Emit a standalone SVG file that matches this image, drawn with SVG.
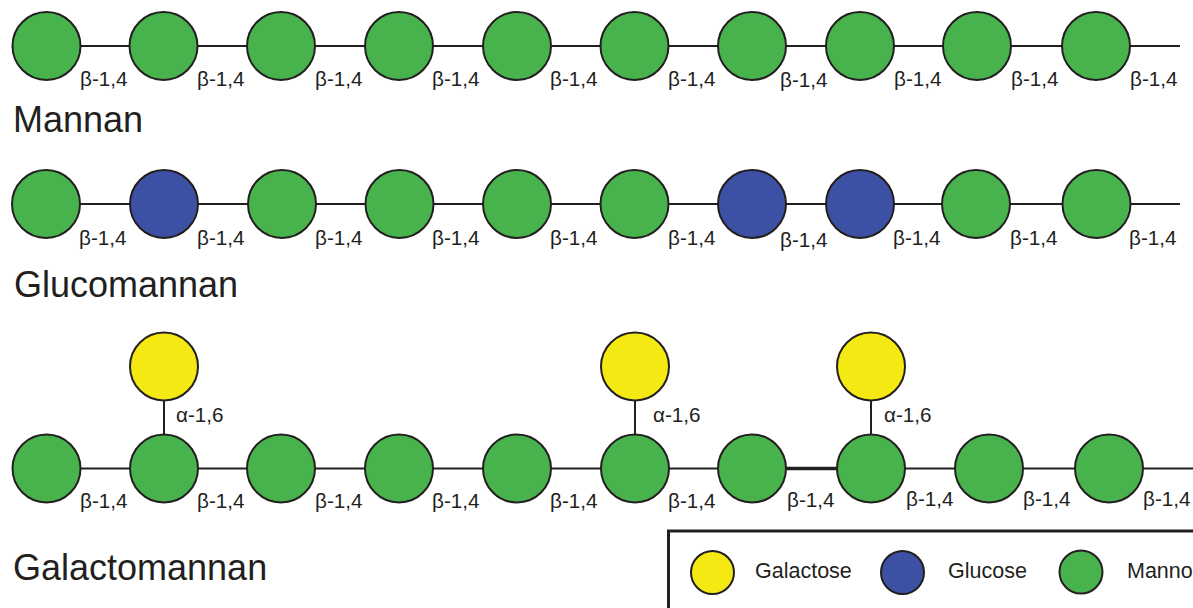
<svg xmlns="http://www.w3.org/2000/svg" width="1193" height="608" viewBox="0 0 1193 608">
<style>
.man{fill:#48b34c;stroke:#231f20;stroke-width:2}
.glc{fill:#3c51a3;stroke:#231f20;stroke-width:2}
.gal{fill:#f4e912;stroke:#231f20;stroke-width:2}
.ln{stroke:#231f20;stroke-width:2;fill:none}
.thick{stroke:#231f20;stroke-width:3.5;fill:none}
.lbl{font-family:"Liberation Sans",Arial,sans-serif;font-size:20.7px;fill:#231f20}
.ttl{font-family:"Liberation Sans",Arial,sans-serif;font-size:36px;fill:#231f20}
.leg{font-family:"Liberation Sans",Arial,sans-serif;font-size:21.5px;fill:#231f20}
</style>
<rect width="1193" height="608" fill="#ffffff"/>
<g id="connectors">
<path class="ln" d="M80.5 46H129.5M197.5 46H247M315 46H365M433 46H483M551 46H600.5M668.5 46H718M786 46H826M894 46H943M1011 46H1062M1130 46H1180"/>
<path class="ln" d="M80 204H130M198 204H248M316 204H365.5M433.5 204H483M551 204H600.5M668.5 204H718M786 204H826M894 204H942M1010 204H1062.5M1130.5 204H1180"/>
<path class="ln" d="M80.5 468.5H130M198 468.5H247M315 468.5H365M433 468.5H483M551 468.5H601M669 468.5H718M905 468.5H955M1023 468.5H1075M1143 468.5H1193"/>
<path class="thick" d="M786 468.5H837"/>
<path class="ln" d="M164 400.5V434.5M635 400.5V434.5M871 400.5V434.5"/>
</g>
<g id="mannan">
<g id="m1"><circle class="man" cx="46.5" cy="46" r="34"/></g>
<g id="m2"><circle class="man" cx="163.5" cy="46" r="34"/></g>
<g id="m3"><circle class="man" cx="281" cy="46" r="34"/></g>
<g id="m4"><circle class="man" cx="399" cy="46" r="34"/></g>
<g id="m5"><circle class="man" cx="517" cy="46" r="34"/></g>
<g id="m6"><circle class="man" cx="634.5" cy="46" r="34"/></g>
<g id="m7"><circle class="man" cx="752" cy="46" r="34"/></g>
<g id="m8"><circle class="man" cx="860" cy="46" r="34"/></g>
<g id="m9"><circle class="man" cx="977" cy="46" r="34"/></g>
<g id="m10"><circle class="man" cx="1096" cy="46" r="34"/></g>
<g class="lbl">
<text x="80" y="86">β-1,4</text><text x="197" y="86">β-1,4</text><text x="315" y="86">β-1,4</text><text x="432" y="86">β-1,4</text><text x="550" y="86">β-1,4</text><text x="668" y="86">β-1,4</text><text x="780" y="87">β-1,4</text><text x="894" y="86">β-1,4</text><text x="1011" y="86">β-1,4</text><text x="1130" y="86">β-1,4</text>
</g>
<text class="ttl" x="13" y="132">Mannan</text>
</g>
<g id="glucomannan">
<g id="g1"><circle class="man" cx="46" cy="204" r="34"/></g>
<g id="g2"><circle class="glc" cx="164" cy="204" r="34"/></g>
<g id="g3"><circle class="man" cx="282" cy="204" r="34"/></g>
<g id="g4"><circle class="man" cx="399.5" cy="204" r="34"/></g>
<g id="g5"><circle class="man" cx="517" cy="204" r="34"/></g>
<g id="g6"><circle class="man" cx="634.5" cy="204" r="34"/></g>
<g id="g7"><circle class="glc" cx="752" cy="204" r="34"/></g>
<g id="g8"><circle class="glc" cx="860" cy="204" r="34"/></g>
<g id="g9"><circle class="man" cx="976" cy="204" r="34"/></g>
<g id="g10"><circle class="man" cx="1096.5" cy="204" r="34"/></g>
<g class="lbl">
<text x="79" y="245">β-1,4</text><text x="197" y="245">β-1,4</text><text x="315" y="245">β-1,4</text><text x="432" y="245">β-1,4</text><text x="550" y="245">β-1,4</text><text x="668" y="245">β-1,4</text><text x="780" y="247">β-1,4</text><text x="893" y="245">β-1,4</text><text x="1010" y="245">β-1,4</text><text x="1129" y="245">β-1,4</text>
</g>
<text class="ttl" x="14" y="297">Glucomannan</text>
</g>
<g id="galactomannan">
<g id="ga1"><circle class="man" cx="46.5" cy="468.5" r="34"/></g>
<g id="ga2"><circle class="man" cx="164" cy="468.5" r="34"/></g>
<g id="ga3"><circle class="man" cx="281" cy="468.5" r="34"/></g>
<g id="ga4"><circle class="man" cx="399" cy="468.5" r="34"/></g>
<g id="ga5"><circle class="man" cx="517" cy="468.5" r="34"/></g>
<g id="ga6"><circle class="man" cx="635" cy="468.5" r="34"/></g>
<g id="ga7"><circle class="man" cx="752" cy="468.5" r="34"/></g>
<g id="ga8"><circle class="man" cx="871" cy="468.5" r="34"/></g>
<g id="ga9"><circle class="man" cx="989" cy="468.5" r="34"/></g>
<g id="ga10"><circle class="man" cx="1109" cy="468.5" r="34"/></g>
<g id="gal1"><circle class="gal" cx="164" cy="366.5" r="34"/></g>
<g id="gal2"><circle class="gal" cx="635" cy="366.5" r="34"/></g>
<g id="gal3"><circle class="gal" cx="871" cy="366.5" r="34"/></g>
<g class="lbl">
<text x="176" y="422">α-1,6</text><text x="653" y="422">α-1,6</text><text x="884" y="422">α-1,6</text>
<text x="80" y="508">β-1,4</text><text x="197" y="508">β-1,4</text><text x="315" y="508">β-1,4</text><text x="432" y="508">β-1,4</text><text x="550" y="508">β-1,4</text><text x="668" y="508">β-1,4</text><text x="787" y="507">β-1,4</text><text x="906" y="506">β-1,4</text><text x="1023" y="506">β-1,4</text><text x="1143" y="506">β-1,4</text>
</g>
<text class="ttl" x="13" y="580">Galactomannan</text>
</g>
<g id="legend">
<rect x="668.5" y="531" width="600" height="200" fill="#ffffff" stroke="#231f20" stroke-width="3"/>
<g id="leg-gal"><circle class="gal" cx="712.5" cy="572.5" r="21.5"/><text class="leg" x="755" y="578">Galactose</text></g>
<g id="leg-glc"><circle class="glc" cx="902.5" cy="572.5" r="21.5"/><text class="leg" x="948" y="578">Glucose</text></g>
<g id="leg-man"><circle class="man" cx="1081" cy="572" r="21.5"/><text class="leg" x="1127" y="578">Mannose</text></g>
</g>
</svg>
